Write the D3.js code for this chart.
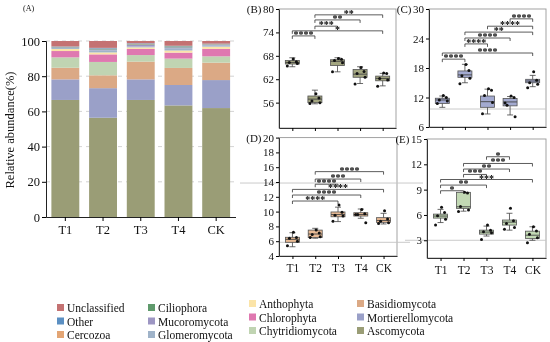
<!DOCTYPE html>
<html><head><meta charset="utf-8">
<script src="https://cdn.jsdelivr.net/npm/d3@7/dist/d3.min.js"></script>
<style>body{margin:0;background:#fff}svg{display:block;font-family:'Liberation Serif';will-change:transform}svg text{font-family:'Liberation Serif';fill:#111}</style>
</head><body>
<svg id="c" width="550" height="342" font-family="Liberation Serif"></svg>
<script>
// ---------- Panel A data (relative abundance %) ----------
const groups = ["T1","T2","T3","T4","CK"];
const ascomycota        = [66.5, 56.4, 66.5, 63.4, 61.9];
const mortierellomycota = [11.7, 16.8, 11.7, 11.6, 15.9];
const basidiomycota     = [6.6, 7.3, 10.1, 9.7, 9.9];
const chytridiomycota   = [5.9, 7.6, 3.7, 5.3, 3.6];
const chlorophyta       = [3.6, 4.3, 3.5, 3.4, 4.2];
const anthophyta        = [1.2, 1.1, 0.9, 1.2, 1.3];
const glomeromycota     = [0.6, 1.2, 0.5, 1.3, 0.8];
const mucoromycota      = [0.3, 0.5, 1.0, 0.5, 0.4];
const ciliophora        = [0.2, 0.3, 0.3, 0.5, 0.2];
const cercozoa          = [0.1, 0.2, 0.2, 0.1, 0.1];
const other             = [0.2, 0.4, 0.3, 0.3, 0.2];
const unclassified      = [3.1, 3.9, 1.3, 2.7, 1.5];
const yTicksA = [0, 20, 40, 60, 80, 100];

// ---------- Box panels data ----------
const boxCats = ["T1","T2","T3","T4","CK"];
// (B) Ascomycota
const bLo  = [65.2, 55.7, 63.9, 60.9, 60.3];
const bQ1  = [65.9, 56.0, 65.5, 62.5, 61.6];
const bMed = [66.3, 56.9, 66.6, 63.3, 62.2];
const bQ3  = [66.8, 57.7, 67.0, 64.5, 62.8];
const bHi  = [67.5, 59.2, 67.5, 65.2, 63.5];
const bPts = [[67.2,66.5,66.3,66.0,65.4],[58.3,57.2,56.4,56.0,55.8],[67.3,67.1,66.8,66.2,63.9],[65.0,64.0,63.5,62.5,60.8],[63.6,63.5,62.2,61.8,60.2]];
const bSig = [["T1","T2","****",73.1],["T1","CK","*",74.4],["T2","T3","***",75.6],["T2","T4","**",77.2],["T2","CK","**",78.5]];
const bTicks = [56, 62, 68, 74, 80];
// (C) Mortierellomycota
const cLo  = [10.0, 15.0, 8.65, 8.45, 14.2];
const cQ1  = [10.8, 16.1, 10.0, 10.3, 15.0];
const cMed = [11.5, 16.6, 11.15, 11.1, 15.35];
const cQ3  = [11.85, 17.4, 12.3, 11.8, 15.7];
const cHi  = [12.3, 18.75, 13.7, 12.2, 16.5];
const cPts = [[12.4,12.0,11.5,11.3,10.8],[18.7,17.5,16.4,15.9,14.8],[13.8,13.5,12.4,11.0,8.7],[12.3,12.0,10.4,8.1,10.9],[17.25,15.5,15.0,14.7,14.0]];
const cSig = [["T1","T2","****",19.8],["T1","CK","****",21.05],["T2","T3","****",22.9],["T2","T4","****",24.1],["T2","CK","**",25.3],["T3","CK","****",26.5],["T4","CK","****",28.0]];
const cTicks = [6, 12, 18, 24, 30];
// (D) Basidiomycota
const dLo  = [5.25, 6.4, 8.65, 9.1, 8.33];
const dQ1  = [5.85, 6.5, 9.3, 9.4, 8.55];
const dMed = [6.25, 6.97, 9.6, 9.6, 8.8];
const dQ3  = [6.53, 7.5, 9.95, 9.85, 9.18];
const dHi  = [7.15, 7.74, 10.6, 10.35, 9.77];
const dPts = [[7.2,6.5,6.4,6.0,5.4],[7.5,7.1,6.9,6.6,6.5],[10.9,9.9,9.5,9.4,8.7],[10.3,9.7,9.6,8.5,9.6],[10.1,9.0,8.7,8.5,8.4]];
const dSig = [["T1","T3","****",11.43],["T1","T4","****",12.24],["T1","CK","****",13.0],["T2","T3","****",13.7],["T2","T4","***",14.4],["T2","CK","****",15.4]];
const dTicks = [4, 6, 8, 10, 12, 14, 16, 18, 20];
// (E) Chytridiomycota
const eLo  = [5.1, 6.45, 3.5, 4.2, 3.0];
const eQ1  = [5.63, 6.78, 3.73, 4.8, 3.22];
const eMed = [5.87, 6.97, 3.97, 5.15, 3.6];
const eQ3  = [6.1, 8.68, 4.2, 5.4, 4.08];
const eHi  = [6.66, 8.68, 4.68, 6.2, 4.6];
const ePts = [[6.9,6.3,5.9,5.5,4.8],[8.7,8.6,7.0,6.6,6.4],[4.8,4.2,4.0,3.9,3.1],[6.78,5.3,5.0,4.5,4.3],[4.6,4.1,3.7,3.3,2.7]];
const eSig = [["T1","T2","*",8.87],["T1","T3","**",9.54],["T1","CK","***",10.2],["T2","T3","***",10.8],["T2","T4","**",11.44],["T2","CK","***",12.1],["T3","T4","*",12.9]];
const eTicks = [3, 6, 9, 12, 15];

// ---------- Legend ----------
const legendCols = [["Unclassified","Other","Cercozoa"],["Ciliophora","Mucoromycota","Glomeromycota"],["Anthophyta","Chlorophyta","Chytridiomycota"],["Basidiomycota","Mortierellomycota","Ascomycota"]];

const colors = {
  Ascomycota:"#9a9d76", Mortierellomycota:"#9aa0c8", Basidiomycota:"#dba985", Chytridiomycota:"#c0d4b2",
  Chlorophyta:"#df78b0", Anthophyta:"#fbe4a8", Glomeromycota:"#9fb3c9", Mucoromycota:"#9d96c3",
  Ciliophora:"#5f9a6c", Cercozoa:"#e3a574", Other:"#5b8fc2", Unclassified:"#c47272"
};
const seriesOrder = [
  ["Ascomycota",ascomycota],["Mortierellomycota",mortierellomycota],["Basidiomycota",basidiomycota],
  ["Chytridiomycota",chytridiomycota],["Chlorophyta",chlorophyta],["Anthophyta",anthophyta],
  ["Glomeromycota",glomeromycota],["Mucoromycota",mucoromycota],["Ciliophora",ciliophora],
  ["Cercozoa",cercozoa],["Other",other],["Unclassified",unclassified]
];

const FONT = "'Liberation Serif'";
const svg = d3.select("#c");
function fontify(sel, size){ sel.attr("font-family",FONT).style("font-family",FONT).style("font-size",size+"px").attr("fill","#111").style("fill","#111"); return sel; }

// ================= Panel A =================
(function(){
  const rows = groups.map((g,i)=>{const r={group:g}; seriesOrder.forEach(([k,a])=>r[k]=a[i]); return r;});
  const stack = d3.stack().keys(seriesOrder.map(d=>d[0]))(rows);
  const x = d3.scaleBand().domain(groups).range([46,235.5]).paddingInner(0.26).paddingOuter(0.143);
  const y = d3.scaleLinear().domain([0,100]).range([217,41]);
  const g = svg.append("g");
  g.selectAll("line.grid").data(yTicksA.slice(1)).join("line")
    .attr("x1",46).attr("x2",235).attr("y1",d=>y(d)).attr("y2",d=>y(d))
    .attr("stroke","#c8c8c8").attr("stroke-width",0.8).attr("stroke-dasharray","4,4");
  g.selectAll("g.layer").data(stack).join("g").attr("fill",d=>colors[d.key])
    .selectAll("rect").data(d=>d).join("rect")
    .attr("x",d=>x(d.data.group)).attr("width",x.bandwidth())
    .attr("y",d=>y(d[1])).attr("height",d=>Math.max(0,y(d[0])-y(d[1])));
  const ya = g.append("g").attr("transform","translate(46,0)")
    .call(d3.axisLeft(y).tickValues(yTicksA).tickSize(4).tickPadding(2));
  ya.attr("font-family",FONT);
  ya.select(".domain").attr("stroke","#222");
  fontify(ya.selectAll("text"),12.5);
  const xa = g.append("g").attr("transform","translate(0,217)")
    .call(d3.axisBottom(x).tickSize(4).tickSizeOuter(0).tickPadding(4));
  xa.attr("font-family",FONT);
  xa.select(".domain").attr("stroke","#222");
  fontify(xa.selectAll("text"),12.5);
  fontify(g.append("text").attr("transform","translate(14,130) rotate(-90)").attr("text-anchor","middle")
    .text("Relative abundance(%)"),12.5);
  fontify(g.append("text").attr("x",23).attr("y",11).text("(A)"),8);
})();

// ================= Box panels =================
function boxPanel(cfg){
  const g = svg.append("g");
  const x = d3.scalePoint().domain(boxCats).range([cfg.x0,cfg.x1]).padding(0.59);
  const y = d3.scaleLinear().domain(cfg.domain).range([cfg.y1,cfg.y0]);
  g.append("rect").attr("x",cfg.x0).attr("y",cfg.y0).attr("width",cfg.x1-cfg.x0).attr("height",cfg.y1-cfg.y0)
    .attr("fill","none").attr("stroke","#999").attr("stroke-width",0.9);
  (cfg.refs||[]).forEach(r=>{
    g.append("line").attr("x1",r.xa).attr("x2",r.xb).attr("y1",y(r.v)).attr("y2",y(r.v))
      .attr("stroke","#c4c4c4").attr("stroke-width",0.9);
  });
  const ya = g.append("g").attr("transform",`translate(${cfg.x0},0)`)
    .call(d3.axisLeft(y).tickValues(cfg.ticks).tickSize(3).tickSizeOuter(0).tickPadding(2));
  ya.attr("font-family",FONT);
  ya.select(".domain").attr("stroke","#333");
  fontify(ya.selectAll("text"),11);
  const xa = g.append("g").attr("transform",`translate(0,${cfg.y1})`)
    .call(d3.axisBottom(x).tickSize(3).tickSizeOuter(0).tickPadding(5));
  xa.attr("font-family",FONT);
  xa.select(".domain").attr("stroke","#333");
  fontify(xa.selectAll("text"),11.5).style("display",cfg.showX?null:"none");
  fontify(g.append("text").attr("x",cfg.x0-17.5).attr("y",y(cfg.domain[1])+4).attr("text-anchor","end")
    .text(cfg.label),11);
  const bw = 14, cap = 3;
  const idx = boxCats.map((c,i)=>i);
  const bx = g.selectAll("g.box").data(idx).join("g");
  bx.append("line").attr("x1",i=>x(boxCats[i])).attr("x2",i=>x(boxCats[i]))
    .attr("y1",i=>y(cfg.lo[i])).attr("y2",i=>y(cfg.hi[i])).attr("stroke","#444").attr("stroke-width",0.8);
  bx.append("line").attr("x1",i=>x(boxCats[i])-cap).attr("x2",i=>x(boxCats[i])+cap)
    .attr("y1",i=>y(cfg.hi[i])).attr("y2",i=>y(cfg.hi[i])).attr("stroke","#444").attr("stroke-width",0.8);
  bx.append("line").attr("x1",i=>x(boxCats[i])-cap).attr("x2",i=>x(boxCats[i])+cap)
    .attr("y1",i=>y(cfg.lo[i])).attr("y2",i=>y(cfg.lo[i])).attr("stroke","#444").attr("stroke-width",0.8);
  bx.append("rect").attr("x",i=>x(boxCats[i])-bw/2).attr("width",bw)
    .attr("y",i=>y(cfg.q3[i])).attr("height",i=>Math.max(1,y(cfg.q1[i])-y(cfg.q3[i])))
    .attr("fill",cfg.fill).attr("stroke","#555").attr("stroke-width",0.8);
  bx.append("line").attr("x1",i=>x(boxCats[i])-bw/2).attr("x2",i=>x(boxCats[i])+bw/2)
    .attr("y1",i=>y(cfg.med[i])).attr("y2",i=>y(cfg.med[i])).attr("stroke","#444").attr("stroke-width",0.9);
  const jit = [1, 4, -3, 5, -5, 2];
  idx.forEach(i=>{
    g.selectAll(null).data(cfg.pts[i]).join("circle")
      .attr("cx",(d,k)=>x(boxCats[i])+jit[k%jit.length]).attr("cy",d=>y(d)).attr("r",1.5).attr("fill","#111");
  });
  cfg.sig.forEach(([a,b,lab,v])=>{
    const xa_ = x(a), xb_ = x(b), yy = y(v);
    g.append("path").attr("d",`M${xa_},${yy+3}V${yy}H${xb_}V${yy+3}`)
      .attr("fill","none").attr("stroke","#333").attr("stroke-width",0.8);
    fontify(g.append("text").attr("x",(xa_+xb_)/2).attr("y",yy+2).attr("text-anchor","middle")
      .style("font-weight","bold").text(lab),10).attr("fill","#000").style("fill","#000");
  });
}

boxPanel({x0:279,x1:396,y0:9,y1:128,domain:[49.5,80],ticks:bTicks,label:"(B)",fill:"#a3a680",
  lo:bLo,q1:bQ1,med:bMed,q3:bQ3,hi:bHi,pts:bPts,sig:bSig,showX:false});
boxPanel({x0:429,x1:546,y0:9,y1:127,domain:[6,30],ticks:cTicks,label:"(C)",fill:"#a3aad0",
  lo:cLo,q1:cQ1,med:cMed,q3:cQ3,hi:cHi,pts:cPts,sig:cSig,showX:false,refs:[{v:9.66,xa:429,xb:546}]});
boxPanel({x0:279,x1:397,y0:137.6,y1:256,domain:[4,20],ticks:dTicks,label:"(D)",fill:"#e8ba94",
  lo:dLo,q1:dQ1,med:dMed,q3:dQ3,hi:dHi,pts:dPts,sig:dSig,showX:true,refs:[{v:13.86,xa:240,xb:423},{v:5.85,xa:279,xb:410}]});
boxPanel({x0:427,x1:546,y0:139,y1:258,domain:[0.9,15],ticks:eTicks,label:"(E)",fill:"#c2d9b4",
  lo:eLo,q1:eQ1,med:eMed,q3:eQ3,hi:eHi,pts:ePts,sig:eSig,showX:true,refs:[{v:3,xa:405,xb:546}]});

// ================= Legend =================
(function(){
  const colX = [57, 148, 249, 357];
  const colY0 = [308, 308, 304, 304];
  const g = svg.append("g");
  legendCols.forEach((col,ci)=>{
    col.forEach((name,ri)=>{
      const yy = colY0[ci] + ri*13.5;
      g.append("rect").attr("x",colX[ci]).attr("y",yy-4).attr("width",7).attr("height",7).attr("fill",colors[name]);
      fontify(g.append("text").attr("x",colX[ci]+10).attr("y",yy+4).text(name),11.5);
    });
  });
})();
</script>
</body></html>
